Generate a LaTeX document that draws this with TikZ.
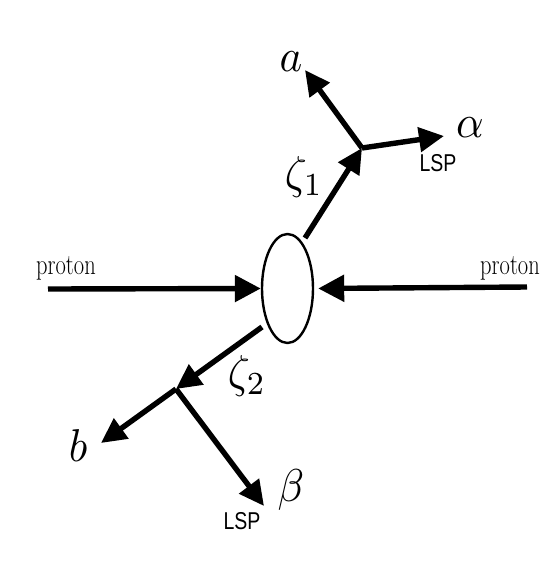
\documentclass[tikz,border=0pt]{standalone}
\usepackage{fontspec}
\newfontfamily\lspfont{Liberation Sans}
\usetikzlibrary{arrows.meta,shapes.geometric}
\tikzset{
  arr/.style={line width=5.4pt,-{Triangle[length=26pt,width=26pt]}},
  sarr/.style={line width=5.4pt,-{Triangle[length=25pt,width=24pt]}},
  big/.style={inner sep=0pt},
  prot/.style={inner sep=0pt,font=\fontsize{22.5}{24}\selectfont},
  lsp/.style={inner sep=0pt,font=\lspfont\fontsize{19.5}{21}\selectfont},
}
\newcommand\mybigmath[1]{\scalebox{4.3}[4.6]{$#1$}}
\begin{document}
\begin{tikzpicture}[x=1pt,y=-1pt]
\useasboundingbox (0,0) rectangle (542,563);
\node[draw,ellipse,line width=2.4pt,minimum width=51pt,minimum height=109pt,inner sep=0pt] (ell) at (287.5,288.5) {};
\coordinate (pl) at (48,289);
\coordinate (pr) at (527,287);
\coordinate (s1) at (305,238);
\coordinate (v1) at (362,148);
\coordinate (ta) at (305,70);
\coordinate (tal) at (444,136);
\coordinate (s2) at (262,327);
\coordinate (v2) at (176,389);
\coordinate (tb) at (101,443);
\coordinate (tbe) at (264,506);
\draw[arr] (pl) -- (ell.west);
\draw[arr,shorten >=4pt] (pr) -- (ell.east);
\draw[sarr] (s1) -- (v1);
\draw[sarr] (v1) -- (ta);
\draw[sarr] (v1) -- (tal);
\draw[sarr] (s2) -- (v2);
\draw[sarr] (v2) -- (tb);
\draw[sarr] (v2) -- (tbe);
\node[prot] (lp) at (66,268) {\scalebox{1}[1.3]{proton}};
\node[prot] (rp) at (510,268) {\scalebox{1}[1.3]{proton}};
\node[big] (la) at (291,62) {\mybigmath{a}};
\node[big] (lal) at (470,128) {\mybigmath{\alpha}};
\node[big] (lz1) at (304,177) {\mybigmath{\zeta_1}};
\node[big] (lz2) at (247,376) {\mybigmath{\zeta_2}};
\node[big] (lb) at (78,446) {\mybigmath{b}};
\node[big] (lbe) at (291,490) {\mybigmath{\beta}};
\node[lsp] (lsp1) at (438,163) {\scalebox{1}[1.25]{LSP}};
\node[lsp] (lsp2) at (242,521) {\scalebox{1}[1.25]{LSP}};
\end{tikzpicture}
\end{document}
